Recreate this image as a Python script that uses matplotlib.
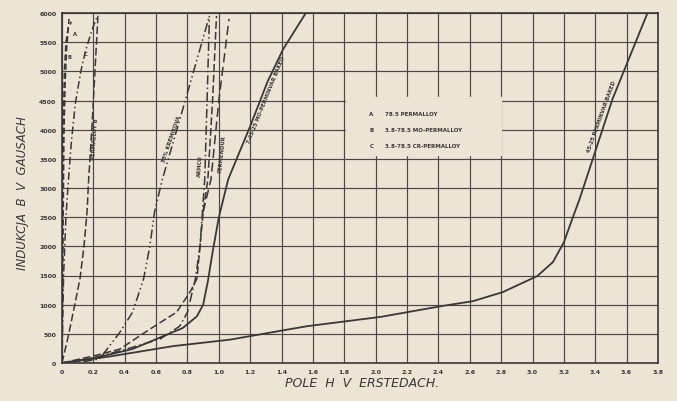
import numpy as np
import matplotlib
matplotlib.use('Agg')
import matplotlib.pyplot as plt

# farba papiera a ciar
paper = '#ece4d5'
ink = '#3a3836'

# krivky magnetizacie: pole H (Oe) a indukcia B (gauss)
h_a = [0, 0.003, 0.008, 0.015, 0.025, 0.04, 0.06]
b_a = [0, 2000, 4000, 5000, 5500, 5750, 5850]

h_b = [0, 0.006, 0.012, 0.02, 0.03, 0.045]
b_b = [0, 2000, 3800, 4800, 5400, 5900]

h_c = [0, 0.01, 0.025, 0.04, 0.06, 0.085, 0.12, 0.15, 0.19, 0.225]
b_c = [0, 1500, 2500, 3100, 3800, 4450, 5000, 5350, 5700, 5950]

h_p45 = [0, 0.04, 0.08, 0.115, 0.14, 0.16, 0.17, 0.19, 0.21, 0.23]
b_p45 = [0, 460, 980, 1450, 2000, 2600, 3150, 4000, 5000, 5980]

h_si = [0, 0.12, 0.24, 0.37, 0.45, 0.52, 0.56, 0.59, 0.64, 0.77, 0.94]
b_si = [0, 15, 70, 530, 870, 1440, 2000, 2590, 3150, 4350, 5950]

h_armco = [0, 0.2, 0.4, 0.625, 0.75, 0.8, 0.85, 0.88, 0.91, 0.925, 0.94]
b_armco = [0, 90, 230, 410, 630, 870, 1440, 2000, 3150, 4500, 5950]

h_pd1 = [0, 0.2, 0.37, 0.56, 0.73, 0.816, 0.86, 0.88, 0.9, 0.93, 0.96, 0.985]
b_pd1 = [0, 120, 240, 580, 870, 1215, 1440, 2000, 2590, 3150, 4500, 5950]

h_pd2 = [0.9, 0.95, 1.0, 1.065]
b_pd2 = [2590, 3150, 4500, 5900]

h_moper = [0, 0.2, 0.45, 0.77, 0.86, 0.9, 0.93, 0.96, 1.0, 1.06, 1.2, 1.31, 1.41, 1.55]
b_moper = [0, 80, 240, 600, 800, 1000, 1400, 1900, 2500, 3150, 4060, 4820, 5380, 5980]

h_perm = [0, 0.3, 0.71, 1.07, 1.56, 2.03, 2.43, 2.62, 2.81, 3.03, 3.13, 3.2, 3.26, 3.3, 3.51, 3.73]
b_perm = [0, 110, 290, 400, 630, 790, 980, 1060, 1215, 1490, 1730, 2070, 2520, 2810, 4525, 5980]

x_ticks = np.arange(0, 3.81, 0.2)
y_ticks = np.arange(0, 6001, 500)
x_labels = ['0'] + ['%.1f' % v for v in x_ticks[1:]]
y_labels = ['%d' % v for v in y_ticks]

legend_rows = [('A', '78.5 PERMALLOY'),
               ('B', '3.8-78.5 MO-PERMALLOY'),
               ('C', '3.8-78.5 CR-PERMALLOY')]

plt.rcParams['font.family'] = ['DejaVu Sans']
fig = plt.figure(figsize=(6.77, 4.02), dpi=100, facecolor=paper)
ax = fig.add_axes([62/677, 38/402, 596/677, 350/402], facecolor=paper)

lw = 1.1
ax.plot(h_a, b_a, color=ink, lw=lw, ls=(0, (4, 2)))
ax.plot(h_b, b_b, color=ink, lw=lw, ls=(0, (4, 2)))
ax.plot(h_c, b_c, color=ink, lw=lw, ls=(0, (5, 2, 1, 2)))
ax.plot(h_p45, b_p45, color=ink, lw=lw, ls=(0, (5, 2)))
ax.plot(h_si, b_si, color=ink, lw=lw, ls=(0, (6, 2, 1, 2, 1, 2)))
ax.plot(h_armco, b_armco, color=ink, lw=lw, ls=(0, (6, 2, 1, 2)))
ax.plot(h_pd1, b_pd1, color=ink, lw=lw, ls=(0, (5, 2)))
ax.plot(h_pd2, b_pd2, color=ink, lw=lw, ls=(0, (6, 3)))
ax.plot(h_moper, b_moper, color=ink, lw=1.3)
ax.plot(h_perm, b_perm, color=ink, lw=1.3)

ax.set_xlim(0, 3.8)
ax.set_ylim(0, 6000)
ax.set_xticks(x_ticks)
ax.set_xticklabels(x_labels)
ax.set_yticks(y_ticks)
ax.set_yticklabels(y_labels)
ax.tick_params(length=0, labelsize=4.5, colors=ink, pad=4)
for t in ax.get_xticklabels() + ax.get_yticklabels():
    t.set_fontweight('bold')
ax.grid(True, color='#4a4744', lw=0.85)
ax.set_axisbelow(True)
for s in ax.spines.values():
    s.set_color(ink)
    s.set_linewidth(1.2)

# popisy kriviek
small = dict(fontsize=3.8, color=ink, fontweight='bold', ha='center', va='center')
ax.text(0.083, 5640, 'A', **small)
ax.text(0.05, 5250, 'B', **small)
ax.text(0.15, 5300, 'C', **small)
ax.text(0.21, 3850, 'PERMALLOY B', rotation=86, **small)
ax.text(0.7, 3850, '35% KREMIKOVA', rotation=71, **small)
ax.text(0.88, 3400, 'ARMCO', rotation=86, **small)
ax.text(1.02, 3600, 'PERMENDUR', rotation=84, **small)
ax.text(1.3, 4530, '7-45-25 MO-PERMINVAR BAKED', rotation=68, **small)
ax.text(3.44, 4240, '45-25 PERMINVAR BAKED', rotation=70, **small)

# legenda v ramceku bez mriezky
ax.fill_between([1.81, 2.8], 3560, 4560, color=paper, zorder=2)
for i, (k, name) in enumerate(legend_rows):
    y = 4270 - i * 270
    ax.text(1.96, y, k, fontsize=4, color=ink, fontweight='bold', va='center', zorder=3)
    ax.text(2.06, y, name, fontsize=4, color=ink, fontweight='bold', va='center', zorder=3)

fig.text(0.535, 0.045, 'POLE  H  V  ERSTEDACH.', fontsize=9, style='italic',
         color=ink, ha='center', va='center')
fig.text(0.033, 0.52, 'INDUKCJA  B  V  GAUSACH', fontsize=8.5, style='italic',
         color=ink, ha='center', va='center', rotation=90)

fig.savefig('out.png', dpi=100, facecolor=paper)
